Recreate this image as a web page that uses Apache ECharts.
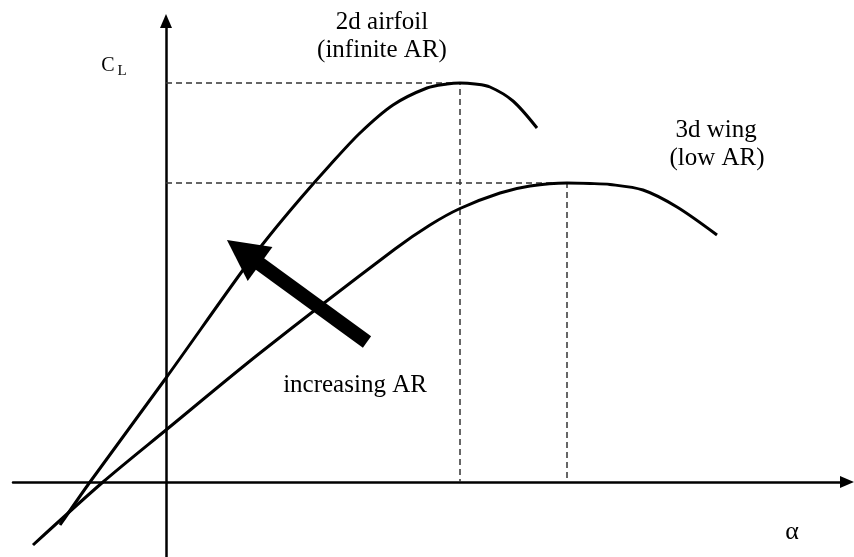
<!DOCTYPE html>
<html>
<head>
<meta charset="utf-8">
<script src="https://cdn.jsdelivr.net/npm/echarts@6/dist/echarts.min.js"></script>
<style>
html,body{margin:0;padding:0;background:#fff;}
#chart{width:854px;height:557px;}
</style>
</head>
<body>
<div id="chart"></div>
<script>
// alpha (x) and CL (y) values
const airfoil2dAlpha = [-5.3, -3.8, 0, 3.85, 5.2, 6.7, 8.2, 9.7, 11.35, 13.05, 14.05, 14.7, 15.45, 16.2, 17.35, 18.55];
const airfoil2dCL    = [-0.172, 0, 0.416, 0.848, 0.988, 1.132, 1.268, 1.396, 1.508, 1.576, 1.592, 1.596, 1.592, 1.58, 1.524, 1.416];
const wing3dAlpha = [-6.65, -3.15, 0, 4.7, 11.45, 13.2, 14.7, 16.7, 18.2, 20.05, 21.2, 22.2, 23.85, 25.55, 27.55];
const wing3dCL    = [-0.252, 0, 0.208, 0.516, 0.932, 1.028, 1.094, 1.156, 1.184, 1.196, 1.194, 1.19, 1.168, 1.1, 0.988];
const stall2d = [14.7, 1.596];   // alpha, CLmax
const stall3d = [20.05, 1.196];
const arrowFrom = [10.05, 0.56];
const arrowTo = [3.875, 0.92];
const labels2d = ['2d airfoil', '(infinite AR)'];
const labels3d = ['3d wing', '(low AR)'];
const arrowLabel = 'increasing AR';
const xLabel = 'α';
const yLabelMain = 'C';
const yLabelSub = 'L';

const zip = (a, b) => a.map((v, i) => [v, b[i]]);
const guide = s => [[0, s[1]], [s[0], s[1]], [s[0], 0]];
const FONT = '"Liberation Serif", "Times New Roman", serif';

const chart = echarts.init(document.getElementById('chart'), null, {renderer: 'canvas'});
const dashStyle = {color: '#333', width: 1.5, type: [6, 4]};
function txt(text, x, y, size) {
  return {type: 'text', x: x, y: y, silent: true,
    style: {text: text, fontSize: size, fontFamily: FONT, fill: '#000',
      align: 'center', verticalAlign: 'middle', textAlign: 'center', textVerticalAlign: 'middle'}};
}
chart.setOption({
  animation: false,
  backgroundColor: '#fff',
  grid: {left: 13, right: 7, top: 21, bottom: 0, containLabel: false},
  xAxis: {type: 'value', min: -7.65, max: 34.05,
    axisLine: {show: true, onZero: true, symbol: ['none', 'triangle'], symbolSize: [12, 14],
      lineStyle: {color: '#000', width: 2.5}},
    axisTick: {show: false}, axisLabel: {show: false}, splitLine: {show: false}},
  yAxis: {type: 'value', min: -0.3, max: 1.844,
    axisLine: {show: true, onZero: true, symbol: ['none', 'triangle'], symbolSize: [12, 14],
      lineStyle: {color: '#000', width: 2.5}},
    axisTick: {show: false}, axisLabel: {show: false}, splitLine: {show: false}},
  series: [
    {type: 'line', data: guide(stall2d), symbol: 'none', lineStyle: dashStyle, silent: true, z: 1},
    {type: 'line', data: guide(stall3d), symbol: 'none', lineStyle: dashStyle, silent: true, z: 1},
    {type: 'line', data: zip(airfoil2dAlpha, airfoil2dCL), symbol: 'none', smooth: 0.3,
      lineStyle: {color: '#000', width: 3}, silent: true, z: 3},
    {type: 'line', data: zip(wing3dAlpha, wing3dCL), symbol: 'none', smooth: 0.3,
      lineStyle: {color: '#000', width: 3}, silent: true, z: 3},
    {type: 'line', data: [], silent: true, z: 4,
      markLine: {silent: true, animation: false, symbol: ['none', 'triangle'], symbolSize: [42, 41],
        label: {show: false}, emphasis: {disabled: true},
        lineStyle: {color: '#000', width: 14, type: 'solid'},
        data: [[{coord: arrowFrom}, {coord: arrowTo}]]}}
  ],
  graphic: [
    txt(labels2d[0], 382, 22, 25),
    txt(labels2d[1], 382, 50, 25),
    txt(labels3d[0], 716, 130, 25),
    txt(labels3d[1], 717, 158, 25),
    txt(arrowLabel, 355, 385, 25),
    txt(xLabel, 792, 532, 26),
    txt(yLabelMain, 108, 66, 20),
    txt(yLabelSub, 122, 71, 15)
  ]
});
</script>
</body>
</html>
